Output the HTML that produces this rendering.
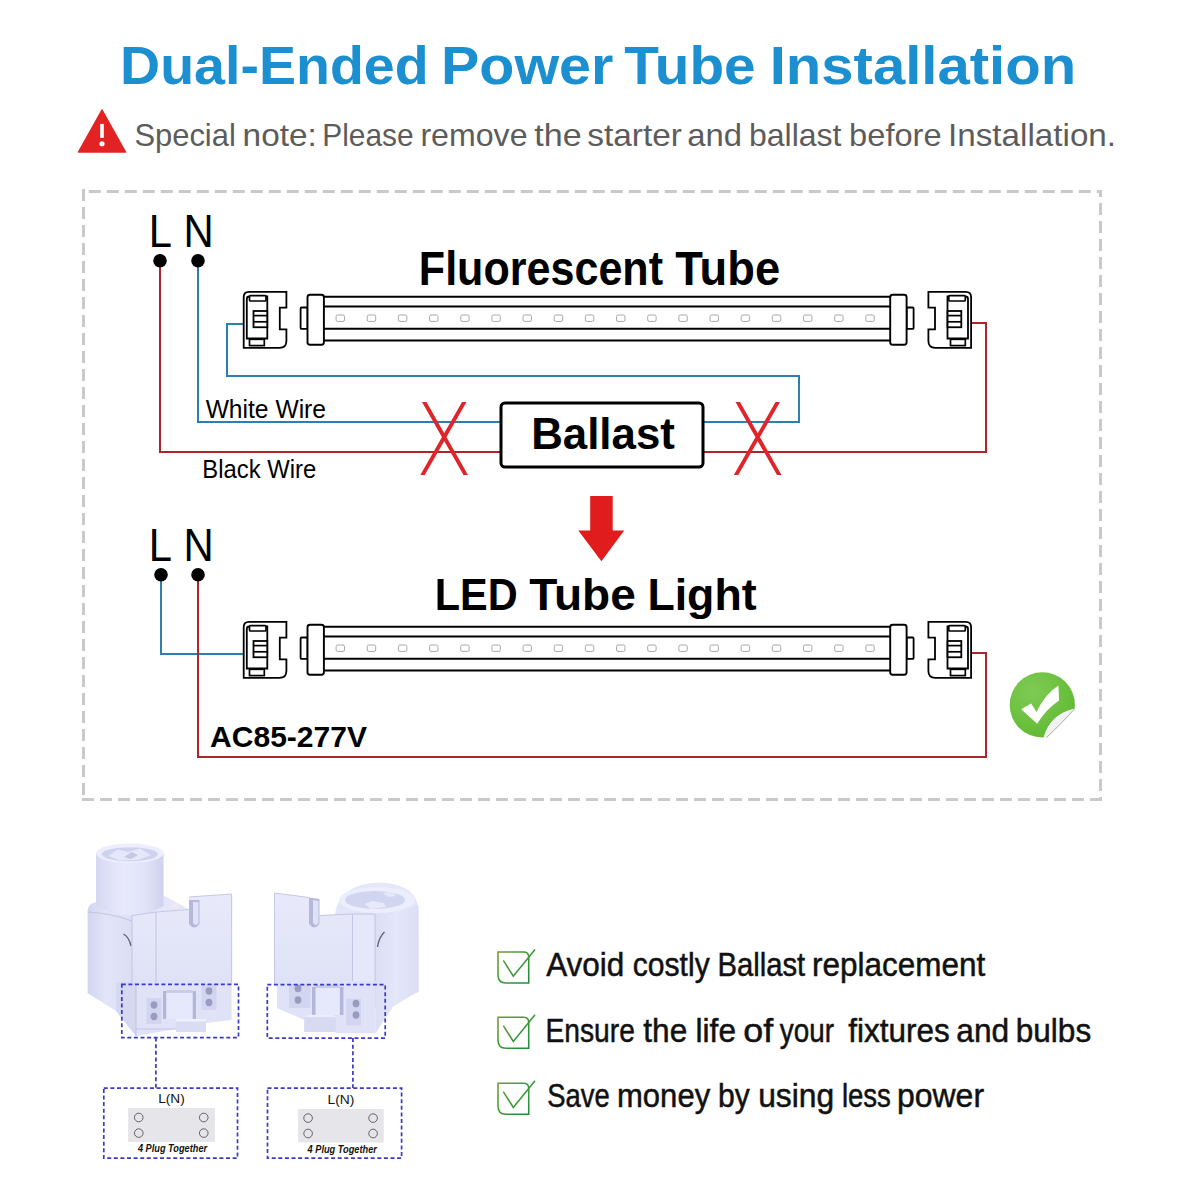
<!DOCTYPE html>
<html><head><meta charset="utf-8">
<style>
html,body{margin:0;padding:0;background:#fff;}
body{width:1200px;height:1200px;overflow:hidden;}
svg{display:block;}
.s{font-family:"Liberation Sans",sans-serif;}
</style></head>
<body>
<svg width="1200" height="1200" viewBox="0 0 1200 1200">
<text class="s" x="120.05" y="84.20" font-size="54.20" font-weight="bold" textLength="308.65" lengthAdjust="spacingAndGlyphs" fill="#1b8fcf">Dual-Ended</text><text class="s" x="440.96" y="84.20" font-size="54.20" font-weight="bold" textLength="172.45" lengthAdjust="spacingAndGlyphs" fill="#1b8fcf">Power</text><text class="s" x="624.36" y="84.20" font-size="54.20" font-weight="bold" textLength="131.32" lengthAdjust="spacingAndGlyphs" fill="#1b8fcf">Tube</text><text class="s" x="769.72" y="84.20" font-size="54.20" font-weight="bold" textLength="306.48" lengthAdjust="spacingAndGlyphs" fill="#1b8fcf">Installation</text><path d="M102,110 L125.5,152 H78.5 Z" fill="#e32323" stroke="#e32323" stroke-width="1.5" stroke-linejoin="round"/><rect x="100.2" y="123.9" width="3.6" height="14" fill="#fff"/><circle cx="102" cy="143.75" r="2.6" fill="#fff"/><text class="s" x="134.38" y="146.00" font-size="32.20" textLength="101.43" lengthAdjust="spacingAndGlyphs" fill="#5c5c5c">Special</text><text class="s" x="242.58" y="146.00" font-size="32.20" textLength="74.18" lengthAdjust="spacingAndGlyphs" fill="#5c5c5c">note:</text><text class="s" x="322.27" y="146.00" font-size="32.20" textLength="91.41" lengthAdjust="spacingAndGlyphs" fill="#5c5c5c">Please</text><text class="s" x="420.42" y="146.00" font-size="32.20" textLength="107.14" lengthAdjust="spacingAndGlyphs" fill="#5c5c5c">remove</text><text class="s" x="534.29" y="146.00" font-size="32.20" textLength="47.31" lengthAdjust="spacingAndGlyphs" fill="#5c5c5c">the</text><text class="s" x="587.29" y="146.00" font-size="32.20" textLength="94.65" lengthAdjust="spacingAndGlyphs" fill="#5c5c5c">starter</text><text class="s" x="687.34" y="146.00" font-size="32.20" textLength="54.77" lengthAdjust="spacingAndGlyphs" fill="#5c5c5c">and</text><text class="s" x="749.00" y="146.00" font-size="32.20" textLength="92.52" lengthAdjust="spacingAndGlyphs" fill="#5c5c5c">ballast</text><text class="s" x="849.13" y="146.00" font-size="32.20" textLength="92.51" lengthAdjust="spacingAndGlyphs" fill="#5c5c5c">before</text><text class="s" x="948.08" y="146.00" font-size="32.20" textLength="167.96" lengthAdjust="spacingAndGlyphs" fill="#5c5c5c">Installation.</text><line x1="88.75" y1="191.5" x2="1102" y2="191.5" stroke="#c9c9c9" stroke-width="3" stroke-dasharray="12 6"/><line x1="83.5" y1="189" x2="83.5" y2="796" stroke="#c9c9c9" stroke-width="3" stroke-dasharray="12 6"/><line x1="82" y1="799.4" x2="1102" y2="799.4" stroke="#c9c9c9" stroke-width="3" stroke-dasharray="12 6"/><line x1="1100.5" y1="190" x2="1100.5" y2="801" stroke="#c9c9c9" stroke-width="3" stroke-dasharray="12 6" stroke-dashoffset="5"/><rect x="1097" y="190" width="5" height="3" fill="#c9c9c9"/><polyline points="160,262 160,452 500,452" fill="none" stroke="#ad252b" stroke-width="2"/><polyline points="703,452 986,452 986,323 971,323" fill="none" stroke="#ad252b" stroke-width="2"/><polyline points="198,262 198,422 500,422" fill="none" stroke="#2c80ae" stroke-width="2"/><polyline points="703,422 799,422 799,376 227,376 227,324 243.7,324" fill="none" stroke="#2c80ae" stroke-width="2"/><g transform="translate(0,0)">
    <path d="M243.7,347.8 V297 Q243.7,291.8 249,291.8 H286.4 V307.7 H279.8 V329.3 H286.4 V341 Q286.4,347.8 279.5,347.8 Z" fill="#fff" stroke="#000" stroke-width="1.8"/>
    <path d="M246.8,338.5 V299 Q246.8,296.5 249.3,296.5 H267.3 V338.5 Z" fill="#fff" stroke="#000" stroke-width="1.8"/>
    <rect x="249.5" y="295.6" width="16.5" height="5.4" rx="1" fill="#fff" stroke="#000" stroke-width="1.7"/>
    <rect x="249.5" y="339.3" width="14.8" height="6.3" fill="#fff" stroke="#000" stroke-width="1.7"/>
    <rect x="253.5" y="311" width="13.75" height="16.25" fill="#fff" stroke="#000" stroke-width="1.8"/>
    <line x1="253.5" y1="315.6" x2="267.3" y2="315.6" stroke="#000" stroke-width="1.7"/>
    <line x1="253.5" y1="321.8" x2="267.3" y2="321.8" stroke="#000" stroke-width="1.7"/>
    </g><g transform="translate(1214.8,0) scale(-1,1)"><g transform="translate(0,0)">
    <path d="M243.7,347.8 V297 Q243.7,291.8 249,291.8 H286.4 V307.7 H279.8 V329.3 H286.4 V341 Q286.4,347.8 279.5,347.8 Z" fill="#fff" stroke="#000" stroke-width="1.8"/>
    <path d="M246.8,338.5 V299 Q246.8,296.5 249.3,296.5 H267.3 V338.5 Z" fill="#fff" stroke="#000" stroke-width="1.8"/>
    <rect x="249.5" y="295.6" width="16.5" height="5.4" rx="1" fill="#fff" stroke="#000" stroke-width="1.7"/>
    <rect x="249.5" y="339.3" width="14.8" height="6.3" fill="#fff" stroke="#000" stroke-width="1.7"/>
    <rect x="253.5" y="311" width="13.75" height="16.25" fill="#fff" stroke="#000" stroke-width="1.8"/>
    <line x1="253.5" y1="315.6" x2="267.3" y2="315.6" stroke="#000" stroke-width="1.7"/>
    <line x1="253.5" y1="321.8" x2="267.3" y2="321.8" stroke="#000" stroke-width="1.7"/>
    </g></g><g transform="translate(0,0)"><line x1="323" y1="296.8" x2="891" y2="296.8" stroke="#000" stroke-width="2"/><line x1="323" y1="306.6" x2="891" y2="306.6" stroke="#000" stroke-width="2"/><line x1="323" y1="328.7" x2="891" y2="328.7" stroke="#000" stroke-width="2"/><line x1="323" y1="340.6" x2="891" y2="340.6" stroke="#000" stroke-width="2"/><rect x="300.6" y="307.5" width="7" height="21.4" rx="1" fill="#fff" stroke="#000" stroke-width="1.8"/><rect x="307.5" y="294.75" width="16.4" height="50" rx="2.5" fill="#fff" stroke="#000" stroke-width="1.9"/><rect x="906.6" y="307.5" width="7" height="21.4" rx="1" fill="#fff" stroke="#000" stroke-width="1.8"/><rect x="890.2" y="294.75" width="16.4" height="50" rx="2.5" fill="#fff" stroke="#000" stroke-width="1.9"/><rect x="336.10" y="315" width="8.4" height="6.4" rx="1.5" fill="none" stroke="#a8a8a8" stroke-width="1"/><rect x="367.26" y="315" width="8.4" height="6.4" rx="1.5" fill="none" stroke="#a8a8a8" stroke-width="1"/><rect x="398.42" y="315" width="8.4" height="6.4" rx="1.5" fill="none" stroke="#a8a8a8" stroke-width="1"/><rect x="429.58" y="315" width="8.4" height="6.4" rx="1.5" fill="none" stroke="#a8a8a8" stroke-width="1"/><rect x="460.74" y="315" width="8.4" height="6.4" rx="1.5" fill="none" stroke="#a8a8a8" stroke-width="1"/><rect x="491.90" y="315" width="8.4" height="6.4" rx="1.5" fill="none" stroke="#a8a8a8" stroke-width="1"/><rect x="523.06" y="315" width="8.4" height="6.4" rx="1.5" fill="none" stroke="#a8a8a8" stroke-width="1"/><rect x="554.22" y="315" width="8.4" height="6.4" rx="1.5" fill="none" stroke="#a8a8a8" stroke-width="1"/><rect x="585.38" y="315" width="8.4" height="6.4" rx="1.5" fill="none" stroke="#a8a8a8" stroke-width="1"/><rect x="616.54" y="315" width="8.4" height="6.4" rx="1.5" fill="none" stroke="#a8a8a8" stroke-width="1"/><rect x="647.70" y="315" width="8.4" height="6.4" rx="1.5" fill="none" stroke="#a8a8a8" stroke-width="1"/><rect x="678.86" y="315" width="8.4" height="6.4" rx="1.5" fill="none" stroke="#a8a8a8" stroke-width="1"/><rect x="710.02" y="315" width="8.4" height="6.4" rx="1.5" fill="none" stroke="#a8a8a8" stroke-width="1"/><rect x="741.18" y="315" width="8.4" height="6.4" rx="1.5" fill="none" stroke="#a8a8a8" stroke-width="1"/><rect x="772.34" y="315" width="8.4" height="6.4" rx="1.5" fill="none" stroke="#a8a8a8" stroke-width="1"/><rect x="803.50" y="315" width="8.4" height="6.4" rx="1.5" fill="none" stroke="#a8a8a8" stroke-width="1"/><rect x="834.66" y="315" width="8.4" height="6.4" rx="1.5" fill="none" stroke="#a8a8a8" stroke-width="1"/><rect x="865.82" y="315" width="8.4" height="6.4" rx="1.5" fill="none" stroke="#a8a8a8" stroke-width="1"/></g><text class="s" x="148.75" y="246.80" font-size="46.00" textLength="23.25" lengthAdjust="spacingAndGlyphs" fill="#000">L</text><text class="s" x="183.51" y="246.80" font-size="46.00" textLength="30.21" lengthAdjust="spacingAndGlyphs" fill="#000">N</text><circle cx="160" cy="260.8" r="6.8" fill="#000"/><circle cx="198" cy="260.8" r="6.8" fill="#000"/><text class="s" x="418.84" y="285.00" font-size="48.30" font-weight="bold" textLength="244.20" lengthAdjust="spacingAndGlyphs" fill="#000">Fluorescent</text><text class="s" x="675.31" y="285.00" font-size="48.30" font-weight="bold" textLength="104.78" lengthAdjust="spacingAndGlyphs" fill="#000">Tube</text><rect x="501" y="403" width="202" height="64" rx="4" fill="#fff" stroke="#000" stroke-width="3"/><text class="s" x="531.17" y="448.90" font-size="44.90" font-weight="bold" textLength="143.71" lengthAdjust="spacingAndGlyphs" fill="#000">Ballast</text><text class="s" x="205.64" y="418.00" font-size="26.00" textLength="120.40" lengthAdjust="spacingAndGlyphs" fill="#000">White Wire</text><text class="s" x="202.33" y="477.70" font-size="26.00" textLength="113.88" lengthAdjust="spacingAndGlyphs" fill="#000">Black Wire</text><path d="M422,402 H426.5 L468,475 H463.5 Z M462,402 H466.5 L424.8,475 H420.3 Z" fill="#e0252a"/><path d="M735.5,402 H740.0 L781.5,475 H777.0 Z M775.5,402 H780.0 L738.3,475 H733.8 Z" fill="#e0252a"/><path d="M590.2,496 H612.7 V530.4 H624.2 L601.4,561.2 L578.3,530.4 H590.2 Z" fill="#e01c1c"/><polyline points="161,576 161,654 243.7,654" fill="none" stroke="#2c80ae" stroke-width="2"/><polyline points="198,576 198,757 986,757 986,653 971,653" fill="none" stroke="#ad252b" stroke-width="2"/><g transform="translate(0,330)">
    <path d="M243.7,347.8 V297 Q243.7,291.8 249,291.8 H286.4 V307.7 H279.8 V329.3 H286.4 V341 Q286.4,347.8 279.5,347.8 Z" fill="#fff" stroke="#000" stroke-width="1.8"/>
    <path d="M246.8,338.5 V299 Q246.8,296.5 249.3,296.5 H267.3 V338.5 Z" fill="#fff" stroke="#000" stroke-width="1.8"/>
    <rect x="249.5" y="295.6" width="16.5" height="5.4" rx="1" fill="#fff" stroke="#000" stroke-width="1.7"/>
    <rect x="249.5" y="339.3" width="14.8" height="6.3" fill="#fff" stroke="#000" stroke-width="1.7"/>
    <rect x="253.5" y="311" width="13.75" height="16.25" fill="#fff" stroke="#000" stroke-width="1.8"/>
    <line x1="253.5" y1="315.6" x2="267.3" y2="315.6" stroke="#000" stroke-width="1.7"/>
    <line x1="253.5" y1="321.8" x2="267.3" y2="321.8" stroke="#000" stroke-width="1.7"/>
    </g><g transform="translate(1214.8,330) scale(-1,1)"><g transform="translate(0,0)">
    <path d="M243.7,347.8 V297 Q243.7,291.8 249,291.8 H286.4 V307.7 H279.8 V329.3 H286.4 V341 Q286.4,347.8 279.5,347.8 Z" fill="#fff" stroke="#000" stroke-width="1.8"/>
    <path d="M246.8,338.5 V299 Q246.8,296.5 249.3,296.5 H267.3 V338.5 Z" fill="#fff" stroke="#000" stroke-width="1.8"/>
    <rect x="249.5" y="295.6" width="16.5" height="5.4" rx="1" fill="#fff" stroke="#000" stroke-width="1.7"/>
    <rect x="249.5" y="339.3" width="14.8" height="6.3" fill="#fff" stroke="#000" stroke-width="1.7"/>
    <rect x="253.5" y="311" width="13.75" height="16.25" fill="#fff" stroke="#000" stroke-width="1.8"/>
    <line x1="253.5" y1="315.6" x2="267.3" y2="315.6" stroke="#000" stroke-width="1.7"/>
    <line x1="253.5" y1="321.8" x2="267.3" y2="321.8" stroke="#000" stroke-width="1.7"/>
    </g></g><g transform="translate(0,330)"><line x1="323" y1="296.8" x2="891" y2="296.8" stroke="#000" stroke-width="2"/><line x1="323" y1="306.6" x2="891" y2="306.6" stroke="#000" stroke-width="2"/><line x1="323" y1="328.7" x2="891" y2="328.7" stroke="#000" stroke-width="2"/><line x1="323" y1="340.6" x2="891" y2="340.6" stroke="#000" stroke-width="2"/><rect x="300.6" y="307.5" width="7" height="21.4" rx="1" fill="#fff" stroke="#000" stroke-width="1.8"/><rect x="307.5" y="294.75" width="16.4" height="50" rx="2.5" fill="#fff" stroke="#000" stroke-width="1.9"/><rect x="906.6" y="307.5" width="7" height="21.4" rx="1" fill="#fff" stroke="#000" stroke-width="1.8"/><rect x="890.2" y="294.75" width="16.4" height="50" rx="2.5" fill="#fff" stroke="#000" stroke-width="1.9"/><rect x="336.10" y="315" width="8.4" height="6.4" rx="1.5" fill="none" stroke="#a8a8a8" stroke-width="1"/><rect x="367.26" y="315" width="8.4" height="6.4" rx="1.5" fill="none" stroke="#a8a8a8" stroke-width="1"/><rect x="398.42" y="315" width="8.4" height="6.4" rx="1.5" fill="none" stroke="#a8a8a8" stroke-width="1"/><rect x="429.58" y="315" width="8.4" height="6.4" rx="1.5" fill="none" stroke="#a8a8a8" stroke-width="1"/><rect x="460.74" y="315" width="8.4" height="6.4" rx="1.5" fill="none" stroke="#a8a8a8" stroke-width="1"/><rect x="491.90" y="315" width="8.4" height="6.4" rx="1.5" fill="none" stroke="#a8a8a8" stroke-width="1"/><rect x="523.06" y="315" width="8.4" height="6.4" rx="1.5" fill="none" stroke="#a8a8a8" stroke-width="1"/><rect x="554.22" y="315" width="8.4" height="6.4" rx="1.5" fill="none" stroke="#a8a8a8" stroke-width="1"/><rect x="585.38" y="315" width="8.4" height="6.4" rx="1.5" fill="none" stroke="#a8a8a8" stroke-width="1"/><rect x="616.54" y="315" width="8.4" height="6.4" rx="1.5" fill="none" stroke="#a8a8a8" stroke-width="1"/><rect x="647.70" y="315" width="8.4" height="6.4" rx="1.5" fill="none" stroke="#a8a8a8" stroke-width="1"/><rect x="678.86" y="315" width="8.4" height="6.4" rx="1.5" fill="none" stroke="#a8a8a8" stroke-width="1"/><rect x="710.02" y="315" width="8.4" height="6.4" rx="1.5" fill="none" stroke="#a8a8a8" stroke-width="1"/><rect x="741.18" y="315" width="8.4" height="6.4" rx="1.5" fill="none" stroke="#a8a8a8" stroke-width="1"/><rect x="772.34" y="315" width="8.4" height="6.4" rx="1.5" fill="none" stroke="#a8a8a8" stroke-width="1"/><rect x="803.50" y="315" width="8.4" height="6.4" rx="1.5" fill="none" stroke="#a8a8a8" stroke-width="1"/><rect x="834.66" y="315" width="8.4" height="6.4" rx="1.5" fill="none" stroke="#a8a8a8" stroke-width="1"/><rect x="865.82" y="315" width="8.4" height="6.4" rx="1.5" fill="none" stroke="#a8a8a8" stroke-width="1"/></g><text class="s" x="148.75" y="560.80" font-size="46.00" textLength="23.25" lengthAdjust="spacingAndGlyphs" fill="#000">L</text><text class="s" x="183.51" y="560.80" font-size="46.00" textLength="30.21" lengthAdjust="spacingAndGlyphs" fill="#000">N</text><circle cx="161" cy="574.8" r="6.8" fill="#000"/><circle cx="198" cy="574.8" r="6.8" fill="#000"/><text class="s" x="434.73" y="609.50" font-size="45.00" font-weight="bold" textLength="82.87" lengthAdjust="spacingAndGlyphs" fill="#000">LED</text><text class="s" x="529.31" y="609.50" font-size="45.00" font-weight="bold" textLength="106.55" lengthAdjust="spacingAndGlyphs" fill="#000">Tube</text><text class="s" x="647.40" y="609.50" font-size="45.00" font-weight="bold" textLength="109.21" lengthAdjust="spacingAndGlyphs" fill="#000">Light</text><text class="s" x="210.09" y="746.70" font-size="29.30" font-weight="bold" textLength="156.88" lengthAdjust="spacingAndGlyphs" fill="#000">AC85-277V</text><defs><radialGradient id="gGreen" cx="0.35" cy="0.3" r="0.8">
      <stop offset="0" stop-color="#7fcb55"/><stop offset="0.6" stop-color="#6cc03f"/><stop offset="1" stop-color="#5bb82c"/></radialGradient>
      <linearGradient id="gCurl" x1="0" y1="0" x2="1" y2="1"><stop offset="0" stop-color="#ffffff"/><stop offset="0.6" stop-color="#eeeeee"/><stop offset="1" stop-color="#b9b9b9"/></linearGradient></defs>
    <circle cx="1042.3" cy="704.9" r="32.6" fill="url(#gGreen)"/>
    <path d="M1043.5,738 Q1049.6,714.6 1075,708.5 L1090,700 V755 H1035 Z" fill="#fff"/>
    <path d="M1043.8,737.8 Q1049.6,714.6 1074.6,708.8 Q1063,722 1046.5,737.6 Z" fill="url(#gCurl)"/><path d="M1074.6,708.8 Q1063,722 1046.5,737.6" fill="none" stroke="#a9a9a9" stroke-width="1"/>
    <path d="M1021.2,709.3 L1031.2,703.6 L1036.5,712.1 Q1045,694 1058.4,685.5 L1059.1,700.4 Q1046,709 1037.2,723.8 Z" fill="#fff"/><defs><linearGradient id="gCb" gradientUnits="userSpaceOnUse" x1="498" y1="950" x2="530" y2="984"><stop offset="0" stop-color="#7a9a2c"/><stop offset="0.5" stop-color="#3d9a35"/><stop offset="1" stop-color="#1d8a3e"/></linearGradient></defs><g transform="translate(0,0.0)" fill="none" stroke="url(#gCb)" stroke-width="1.55">
        <path d="M498,952 H523.5 Q528.7,952 528.7,957 V983 H506 Q498,983 498,975 Z"/>
        <path d="M503.3,960.4 L513.3,976.2 L535,949.6"/></g><text class="s" x="546.18" y="976.00" font-size="32.60" stroke="#111" stroke-width="0.5" textLength="78.12" lengthAdjust="spacingAndGlyphs" fill="#111">Avoid</text><text class="s" x="632.74" y="976.00" font-size="32.60" stroke="#111" stroke-width="0.5" textLength="76.96" lengthAdjust="spacingAndGlyphs" fill="#111">costly</text><text class="s" x="717.51" y="976.00" font-size="32.60" stroke="#111" stroke-width="0.5" textLength="87.74" lengthAdjust="spacingAndGlyphs" fill="#111">Ballast</text><text class="s" x="811.92" y="976.00" font-size="32.60" stroke="#111" stroke-width="0.5" textLength="173.30" lengthAdjust="spacingAndGlyphs" fill="#111">replacement</text><g transform="translate(0,65.2)" fill="none" stroke="url(#gCb)" stroke-width="1.55">
        <path d="M498,952 H523.5 Q528.7,952 528.7,957 V983 H506 Q498,983 498,975 Z"/>
        <path d="M503.3,960.4 L513.3,976.2 L535,949.6"/></g><text class="s" x="545.49" y="1042.00" font-size="32.60" stroke="#111" stroke-width="0.5" textLength="89.39" lengthAdjust="spacingAndGlyphs" fill="#111">Ensure</text><text class="s" x="643.31" y="1042.00" font-size="32.60" stroke="#111" stroke-width="0.5" textLength="43.92" lengthAdjust="spacingAndGlyphs" fill="#111">the</text><text class="s" x="695.57" y="1042.00" font-size="32.60" stroke="#111" stroke-width="0.5" textLength="40.40" lengthAdjust="spacingAndGlyphs" fill="#111">life</text><text class="s" x="743.39" y="1042.00" font-size="32.60" stroke="#111" stroke-width="0.5" textLength="29.93" lengthAdjust="spacingAndGlyphs" fill="#111">of</text><text class="s" x="779.85" y="1042.00" font-size="32.60" stroke="#111" stroke-width="0.5" textLength="54.14" lengthAdjust="spacingAndGlyphs" fill="#111">your</text><text class="s" x="848.26" y="1042.00" font-size="32.60" stroke="#111" stroke-width="0.5" textLength="101.40" lengthAdjust="spacingAndGlyphs" fill="#111">fixtures</text><text class="s" x="956.33" y="1042.00" font-size="32.60" stroke="#111" stroke-width="0.5" textLength="52.84" lengthAdjust="spacingAndGlyphs" fill="#111">and</text><text class="s" x="1015.77" y="1042.00" font-size="32.60" stroke="#111" stroke-width="0.5" textLength="75.43" lengthAdjust="spacingAndGlyphs" fill="#111">bulbs</text><g transform="translate(0,131.2)" fill="none" stroke="url(#gCb)" stroke-width="1.55">
        <path d="M498,952 H523.5 Q528.7,952 528.7,957 V983 H506 Q498,983 498,975 Z"/>
        <path d="M503.3,960.4 L513.3,976.2 L535,949.6"/></g><text class="s" x="547.33" y="1107.00" font-size="32.60" stroke="#111" stroke-width="0.5" textLength="62.49" lengthAdjust="spacingAndGlyphs" fill="#111">Save</text><text class="s" x="616.97" y="1107.00" font-size="32.60" stroke="#111" stroke-width="0.5" textLength="93.23" lengthAdjust="spacingAndGlyphs" fill="#111">money</text><text class="s" x="718.00" y="1107.00" font-size="32.60" stroke="#111" stroke-width="0.5" textLength="31.79" lengthAdjust="spacingAndGlyphs" fill="#111">by</text><text class="s" x="758.16" y="1107.00" font-size="32.60" stroke="#111" stroke-width="0.5" textLength="76.03" lengthAdjust="spacingAndGlyphs" fill="#111">using</text><text class="s" x="841.88" y="1107.00" font-size="32.60" stroke="#111" stroke-width="0.5" textLength="49.03" lengthAdjust="spacingAndGlyphs" fill="#111">less</text><text class="s" x="896.96" y="1107.00" font-size="32.60" stroke="#111" stroke-width="0.5" textLength="87.11" lengthAdjust="spacingAndGlyphs" fill="#111">power</text><defs>
    <linearGradient id="gBodyL" x1="0" y1="0" x2="1" y2="0">
      <stop offset="0" stop-color="#d3d5f0"/><stop offset="0.35" stop-color="#e2e4f8"/><stop offset="1" stop-color="#dadcf4"/>
    </linearGradient>
    <linearGradient id="gCyl" x1="0" y1="0" x2="1" y2="0">
      <stop offset="0" stop-color="#d6d8f2"/><stop offset="0.4" stop-color="#e8eafb"/><stop offset="0.75" stop-color="#e0e2f8"/><stop offset="1" stop-color="#cfd1ee"/>
    </linearGradient>
    <linearGradient id="gPlate" x1="0" y1="0" x2="0" y2="1">
      <stop offset="0" stop-color="#e8eafb"/><stop offset="1" stop-color="#dfe1f6"/>
    </linearGradient>
    <linearGradient id="gSideR" x1="0" y1="0" x2="1" y2="0">
      <stop offset="0" stop-color="#dcdef5"/><stop offset="0.5" stop-color="#e4e6fa"/><stop offset="1" stop-color="#dcdef5"/>
    </linearGradient>
    <linearGradient id="gHousR" x1="0" y1="0" x2="0" y2="1">
      <stop offset="0" stop-color="#e5e7fa"/><stop offset="1" stop-color="#dadcf4"/>
    </linearGradient>
    </defs><path d="M87.6,993 V912 Q87.6,902 98,902 H140 V1011 H116 Z" fill="url(#gBodyL)"/><path d="M87.6,912 Q110,913 132,921" fill="none" stroke="#bfc2e0" stroke-width="0.9"/><path d="M120,906 L165,896 L188,909 L156,912 L132,915.5 Z" fill="#e4e6f9"/><path d="M96,853 V906 Q130,925 163.5,906 V853 Z" fill="url(#gCyl)"/><ellipse cx="129.8" cy="853.3" rx="33.7" ry="9.8" fill="#eceefd"/><ellipse cx="129.8" cy="854.3" rx="28" ry="7" fill="#cfd2ee"/><path d="M108,856 L118,849.5 L128,852 L140,848.5 L151,855 L138,860 L120,860.5 Z" fill="#e5e7fa"/><path d="M124,857 L132,852 L138,855 L131,859 Z" fill="#c5c8e4"/><path d="M123.5,934 Q129,937 131,946" fill="none" stroke="#5f6180" stroke-width="1.4"/><path d="M132,984 V915.5 L156,912 L189,909.5 V897 L231.6,894 V984 Z" fill="url(#gPlate)"/><path d="M132,915.5 L156,912 L189,909.5 M189,897 L231.6,894 M156,912 V984 M132,915.5 V984 M231.6,894 V984" fill="none" stroke="#bfc2e0" stroke-width="0.9"/><path d="M189,900 H199.5 V924 Q194.2,931 189,924 Z" fill="#b5b8da"/><path d="M193,902 H198.5 V923 Q196,927 193,923 Z" fill="#dfe1f6"/><path d="M170,905 L176,903.5 L180,907 L174,908.5 Z" fill="#f0e8f4"/><path d="M116,982 H231.6 V1020 L206,1023 V1032 H176 V1029 L136,1036 L116,1011 Z" fill="#e0e2f7"/><path d="M116,982 H136 V1036 L116,1011 Z" fill="#d5d8f0"/><path d="M136,984 V1036 M136,1029 H176" fill="none" stroke="#bfc2e0" stroke-width="0.9"/><rect x="163" y="991" width="3.5" height="28" fill="#b3b6d8"/><rect x="192.5" y="991" width="3.5" height="28" fill="#b3b6d8"/><rect x="166.5" y="993" width="26" height="26" fill="#e6e8fb"/><rect x="166.5" y="990" width="26" height="3" fill="#c9cce8"/><path d="M176,1019 H206 V1032 H176 Z" fill="#dadcf4"/><rect x="176" y="1019" width="30" height="2.5" fill="#eef0fe"/><rect x="146.5" y="998" width="15" height="26" fill="#d2d5ef"/><rect x="201.5" y="984" width="15" height="26" fill="#d2d5ef"/><ellipse cx="154" cy="1005" rx="3.4" ry="3.7" fill="#999cc0"/><ellipse cx="154" cy="1016.5" rx="3.4" ry="3.7" fill="#999cc0"/><ellipse cx="209" cy="991" rx="3.4" ry="3.7" fill="#999cc0"/><ellipse cx="209" cy="1002.5" rx="3.4" ry="3.7" fill="#999cc0"/><path d="M335,915 Q338,884 380,882.5 Q418.5,884 418.5,912 V992 L375,1010 H340 Z" fill="url(#gHousR)"/><path d="M375,914 Q400,912 418.5,905 V991 L393,1006.7 L375.7,1033.3 Z" fill="url(#gSideR)"/><ellipse cx="377" cy="900" rx="38" ry="13" fill="#eceefd"/><ellipse cx="375" cy="900" rx="30" ry="9" fill="#d2d5ef"/><path d="M365,904 L372,901 L384,903 L386,907 L371,909 Z" fill="#e8eafb"/><path d="M383,893 L392,891.5 L396,896 L388,897 Z" fill="#e5e7fa"/><path d="M384.5,932 Q379,937 377.5,947" fill="none" stroke="#5f6180" stroke-width="1.4"/><path d="M274.5,984 V893 L309,897.5 V924 Q314.2,931 319.5,924 V915.5 L352.5,914 V984 Z" fill="url(#gPlate)"/><path d="M309,897.5 L319.5,899 V924 Q314.2,931 309,924 Z" fill="#b5b8da"/><path d="M313,900 L318.5,901 V923 Q316,927 313,923 Z" fill="#dfe1f6"/><rect x="352.5" y="914" width="22.5" height="92" fill="#e5e7fa"/><path d="M274.5,893 V984 M274.5,893 L309,897.5 M319.5,915.5 L352.5,914 L375,914 M352.5,914 V1000 M375,914 V1008" fill="none" stroke="#bfc2e0" stroke-width="0.9"/><path d="M277,981 H375.7 V1033.3 H335.7 V1032 H304.3 V1020 L277,1008 Z" fill="#e0e2f7"/><rect x="312" y="987" width="3.7" height="28" fill="#b3b6d8"/><rect x="339.7" y="987" width="3.7" height="28" fill="#b3b6d8"/><rect x="315.7" y="988" width="24" height="26.7" fill="#e6e8fb"/><rect x="315.7" y="985" width="24" height="3" fill="#c9cce8"/><path d="M304.3,1017 H335.7 V1032 H304.3 Z" fill="#d8daf2"/><path d="M308,1014.7 H333 L335.7,1017 H304.3 Z" fill="#eceefd"/><rect x="289" y="984" width="21.3" height="24" fill="#d2d5ef"/><rect x="346.3" y="998.7" width="14.7" height="26.6" fill="#d2d5ef"/><ellipse cx="298" cy="988.5" rx="3.4" ry="3.7" fill="#999cc0"/><ellipse cx="298" cy="1000" rx="3.4" ry="3.7" fill="#999cc0"/><ellipse cx="356" cy="1003.5" rx="3.4" ry="3.7" fill="#999cc0"/><ellipse cx="356" cy="1015" rx="3.4" ry="3.7" fill="#999cc0"/><rect x="121.8" y="984.3" width="116.7" height="53.3" fill="none" stroke="#3a3ac8" stroke-width="1.7" stroke-dasharray="4 2.6"/><line x1="155.9" y1="1037.6" x2="155.9" y2="1088.1" fill="none" stroke="#3a3ac8" stroke-width="1.7" stroke-dasharray="4 2.6"/><rect x="103.8" y="1088.1" width="133.7" height="70" fill="none" stroke="#3a3ac8" stroke-width="1.7" stroke-dasharray="4 2.6"/><rect x="267.3" y="984.7" width="117.9" height="53.4" fill="none" stroke="#3a3ac8" stroke-width="1.7" stroke-dasharray="4 2.6"/><line x1="352.9" y1="1038.1" x2="352.9" y2="1088.1" fill="none" stroke="#3a3ac8" stroke-width="1.7" stroke-dasharray="4 2.6"/><rect x="267.5" y="1088.1" width="134.1" height="70" fill="none" stroke="#3a3ac8" stroke-width="1.7" stroke-dasharray="4 2.6"/><rect x="128.1" y="1108" width="86.90" height="33.90" fill="#e6e6ea"/><circle cx="138.75" cy="1117.5" r="4.3" fill="none" stroke="#555" stroke-width="0.9"/><circle cx="138.75" cy="1133.1" r="4.3" fill="none" stroke="#555" stroke-width="0.9"/><circle cx="203.75" cy="1117.5" r="4.3" fill="none" stroke="#555" stroke-width="0.9"/><circle cx="203.75" cy="1133.1" r="4.3" fill="none" stroke="#555" stroke-width="0.9"/><text class="s" x="158.16" y="1102.50" font-size="12.20" textLength="26.52" lengthAdjust="spacingAndGlyphs" fill="#111">L(N)</text><text class="s" x="137.92" y="1151.90" font-size="10.90" font-weight="bold" font-style="italic" textLength="69.19" lengthAdjust="spacingAndGlyphs" fill="#111">4 Plug Together</text><rect x="298.1" y="1109" width="85.65" height="33.50" fill="#e6e6ea"/><circle cx="308.1" cy="1118.1" r="4.3" fill="none" stroke="#555" stroke-width="0.9"/><circle cx="308.1" cy="1133.5" r="4.3" fill="none" stroke="#555" stroke-width="0.9"/><circle cx="373.1" cy="1118.1" r="4.3" fill="none" stroke="#555" stroke-width="0.9"/><circle cx="373.1" cy="1133.5" r="4.3" fill="none" stroke="#555" stroke-width="0.9"/><text class="s" x="327.59" y="1103.75" font-size="12.20" textLength="26.84" lengthAdjust="spacingAndGlyphs" fill="#111">L(N)</text><text class="s" x="307.55" y="1152.50" font-size="10.90" font-weight="bold" font-style="italic" textLength="69.34" lengthAdjust="spacingAndGlyphs" fill="#111">4 Plug Together</text>
</svg>
</body></html>
